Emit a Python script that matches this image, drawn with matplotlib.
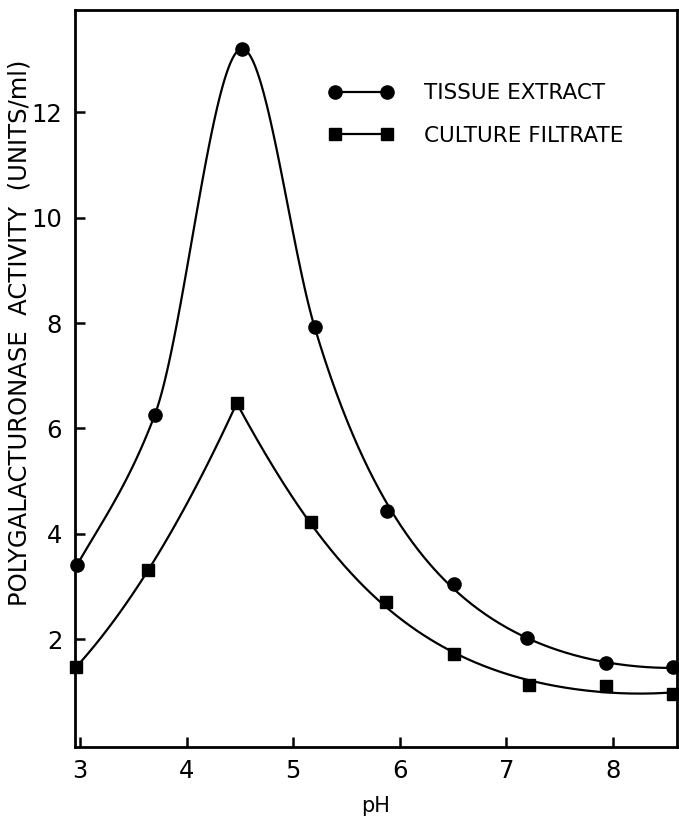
import numpy as np
import matplotlib
matplotlib.use("Agg")
import matplotlib.pyplot as plt

# values
ph_tissue = [2.97, 3.70, 4.52, 5.20, 5.88, 6.51, 7.19, 7.93, 8.56]
act_tissue = [3.40, 6.25, 13.21, 7.93, 4.43, 3.04, 2.02, 1.54, 1.46]

ph_culture = [2.96, 3.64, 4.47, 5.17, 5.87, 6.51, 7.21, 7.93, 8.56]
act_culture = [1.46, 3.31, 6.48, 4.22, 2.70, 1.71, 1.12, 1.10, 0.95]

x_ticks = [3, 4, 5, 6, 7, 8]
y_ticks = [2, 4, 6, 8, 10, 12]


def hermite(x0, x1, y0, y1, m0, m1, n=80):
    xs = np.linspace(x0, x1, n)
    h = x1 - x0
    t = (xs - x0) / h
    ys = ((2 * t**3 - 3 * t**2 + 1) * y0 + (t**3 - 2 * t**2 + t) * h * m0
          + (-2 * t**3 + 3 * t**2) * y1 + (t**3 - t**2) * h * m1)
    return xs, ys


def log_fit(x, y, deg=3):
    # smooth decay drawn through the points, pinned at the first one
    x = np.asarray(x, float)
    w = np.ones(len(x))
    w[0] = 50
    c = np.polyfit(x, np.log(y), deg, w=w)
    xs = np.linspace(x[0], x[-1], 200)
    ys = np.exp(np.polyval(c, xs))
    slope0 = np.polyval(np.polyder(c), x[0]) * np.exp(np.polyval(c, x[0]))
    return xs, ys, slope0


plt.rcParams["font.family"] = ["DejaVu Sans"]

fig = plt.figure(figsize=(6.79, 8.17), dpi=100)
ax = fig.add_axes([0.110, 0.0857, 0.887, 0.9023])
kw = dict(color="black", lw=1.6, clip_on=False)

# tissue extract: rising part, rounded top, then smooth decay
pt, at = ph_tissue, act_tissue
d0 = (at[1] - at[0]) / (pt[1] - pt[0])
d1 = (at[2] - at[1]) / (pt[2] - pt[1])
m1 = 2 / (1 / d0 + 1 / d1)
ax.plot(*hermite(pt[0], pt[1], at[0], at[1], d0 * 0.9, m1), **kw)
ax.plot(*hermite(pt[1], pt[2], at[1], at[2], m1, 0.0), **kw)
xs, ys, s3 = log_fit(pt[3:], at[3:])
ax.plot(*hermite(pt[2], pt[3], at[2], at[3], 0.0, s3), **kw)
ax.plot(xs, ys, **kw)

# culture filtrate: sharp peak, two smooth branches
pc, ac = ph_culture, act_culture
pk = int(np.argmax(ac))
c = np.polyfit(pc[:pk + 1], ac[:pk + 1], 2)
xs = np.linspace(pc[0], pc[pk], 100)
ax.plot(xs, np.polyval(c, xs), **kw)
xs, ys, _ = log_fit(pc[pk:], ac[pk:])
ax.plot(xs, ys, **kw)

ax.plot(ph_tissue, act_tissue, "o", color="black", ms=9.5, clip_on=False, zorder=5)
ax.plot(ph_culture, act_culture, "s", color="black", ms=9, clip_on=False, zorder=5)

# legend entries
h1, = ax.plot([], [], "o-", color="black", ms=9.5, lw=1.6)
h2, = ax.plot([], [], "s-", color="black", ms=9, lw=1.6)
leg = ax.legend([h1, h2], ["TISSUE EXTRACT", "CULTURE FILTRATE"],
                numpoints=2, frameon=False, fontsize=15.5,
                loc="upper left", bbox_to_anchor=(0.408, 0.912),
                handlelength=3.0, handletextpad=1.4, labelspacing=1.05,
                borderaxespad=0)

ax.set_xlim(2.95, 8.6)
ax.set_ylim(-0.05, 13.95)
ax.set_xticks(x_ticks)
ax.set_yticks(y_ticks)
ax.tick_params(direction="in", length=7, width=1.8, labelsize=17.5, pad=9)

for s in ax.spines.values():
    s.set_linewidth(2.0)

ax.set_xlabel("pH", fontsize=15, labelpad=9)
ax.set_ylabel("POLYGALACTURONASE  ACTIVITY  (UNITS/ml)", fontsize=17.5)
ax.yaxis.set_label_coords(-0.072, 0.562)

fig.savefig("out.png", dpi=100)
